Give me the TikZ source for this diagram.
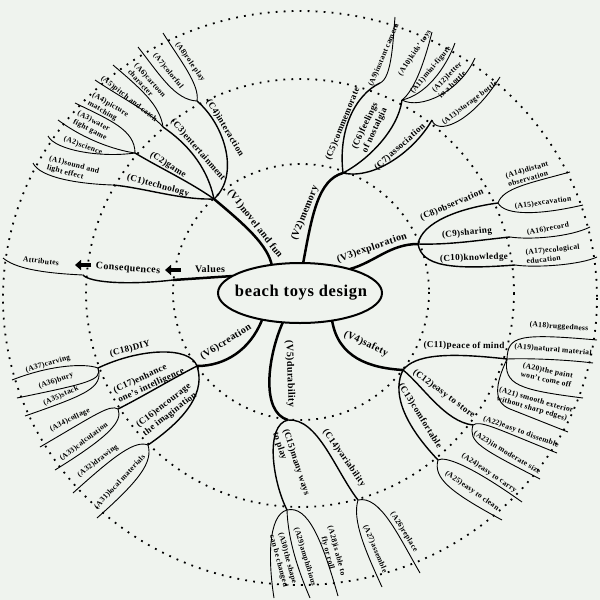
\documentclass[tikz,border=0pt]{standalone}
\usepackage{fontspec}
\setmainfont{Liberation Serif}[LetterSpace=4]
\usetikzlibrary{arrows.meta}
\definecolor{bgc}{RGB}{239,243,238}
\tikzset{
 lA/.style={font=\bfseries\fontsize{7.6}{9.2}\selectfont, inner sep=0pt, align=left},
 lC/.style={font=\bfseries\fontsize{9.1}{10.6}\selectfont, inner sep=0pt, align=left},
 lV/.style={font=\bfseries\fontsize{10}{11}\selectfont, inner sep=0pt},
 vline/.style={line width=2.5pt},
 cline/.style={line width=1.4pt},
 aline/.style={line width=0.9pt},
 ring/.style={line width=1.8pt, dash pattern=on 1.8pt off 6.2pt},
 bigarrow/.style={line width=4pt, -{Triangle[length=6pt,width=10pt]}},
}
\begin{document}
\begin{tikzpicture}[x=1pt,y=-1pt]
\fill[bgc] (0,0) rectangle (600,600);
\useasboundingbox (0,0) rectangle (600,600);
% rings
\draw[ring] (301,292) circle[radius=128];
\draw[ring] (300,293) circle[radius=214];
\draw[ring] (300,298) ellipse[x radius=297, y radius=287];
% junctions
\coordinate (J1) at (214,199);
\coordinate (J2) at (343,173);
\coordinate (J3) at (418,244);
\coordinate (J4) at (403,370);
\coordinate (J5) at (288,420);
\coordinate (J6) at (197,366);
\coordinate (E0) at (233,276);
\coordinate (E1) at (272,266);
\coordinate (E2) at (303,264);
\coordinate (E3) at (350,269);
\coordinate (E4) at (332,320);
\coordinate (E5) at (283,322);
\coordinate (E6) at (262,320);
\coordinate (L1) at (173,280);
\coordinate (L2) at (83,275);
\coordinate (L3) at (3,258);
% C ends
\coordinate (K1) at (113,185);
\coordinate (K2) at (135,153);
\coordinate (K3) at (163,127);
\coordinate (K4) at (197,101);
\coordinate (K5) at (380,83);
\coordinate (K6) at (402,100);
\coordinate (K7) at (432,120);
\coordinate (K8) at (498,203);
\coordinate (K9) at (510,237);
\coordinate (K10) at (515,265);
\coordinate (K11) at (507,359);
\coordinate (K12) at (473,425);
\coordinate (K13) at (438,460);
\coordinate (K14) at (358,500);
\coordinate (K15) at (287,510);
\coordinate (K16) at (148,445);
\coordinate (K17) at (118,409);
\coordinate (K18) at (98,368);
% A ends
\coordinate (a1) at (33,163);
\coordinate (a2) at (48,136);
\coordinate (a3) at (58,120);
\coordinate (a4) at (75,103);
\coordinate (a5) at (95,80);
\coordinate (a6) at (113,65);
\coordinate (a7) at (138,47);
\coordinate (a8) at (163,33);
\coordinate (a9) at (395,17);
\coordinate (a10) at (432,32);
\coordinate (a11) at (455,43);
\coordinate (a12) at (475,58);
\coordinate (a13) at (500,77);
\coordinate (a14) at (570,172);
\coordinate (a15) at (583,205);
\coordinate (a16) at (590,227);
\coordinate (a17) at (597,257);
\coordinate (a18) at (597,340);
\coordinate (a19) at (593,363);
\coordinate (a20) at (583,398);
\coordinate (a21) at (568,432);
\coordinate (a22) at (557,453);
\coordinate (a23) at (540,479);
\coordinate (a24) at (522,502);
\coordinate (a25) at (502,520);
\coordinate (a26) at (420,573);
\coordinate (a27) at (382,587);
\coordinate (a28) at (338,596);
\coordinate (a29) at (310,598);
\coordinate (a30) at (274,598);
\coordinate (a31) at (97,518);
\coordinate (a32) at (73,493);
\coordinate (a33) at (55,470);
\coordinate (a34) at (40,447);
\coordinate (a35) at (25,416);
\coordinate (a36) at (17,398);
\coordinate (a37) at (12,380);
% legend lines
\draw[vline] (E0) -- (L1);
\draw[cline] (L1) .. controls (130,285) and (90,283) .. (L2);
\draw[aline] (L2) .. controls (40,273) and (15,268) .. (L3);
% V lines
\draw[vline] (J1) .. controls (245,225) and (268,245) .. (E1);
\draw[vline] (E2) .. controls (312,215) and (318,180) .. (J2);
\draw[vline] (E3) .. controls (375,262) and (390,244) .. (J3);
\draw[vline] (E4) .. controls (338,358) and (370,368) .. (J4);
\draw[vline] (E5) .. controls (268,355) and (260,412) .. (J5);
\draw[vline] (E6) .. controls (250,350) and (225,366) .. (J6);
% V1 group
\draw[cline] (K1) .. controls (145,188) and (180,200) .. (J1);
\draw[cline] (K2) .. controls (160,168) and (190,182) .. (J1);
\draw[cline] (K3) .. controls (185,142) and (207,165) .. (J1);
\draw[cline] (K4) .. controls (225,125) and (240,175) .. (J1);
\draw[aline] (a1) .. controls (40,178) and (80,184) .. (K1);
\draw[aline] (a2) .. controls (55,150) and (100,158) .. (K2);
\draw[aline] (a3) .. controls (85,140) and (115,150) .. (K2);
\draw[aline] (a4) .. controls (110,120) and (135,130) .. (K2);
\draw[aline] (a5) .. controls (125,100) and (150,112) .. (K3);
\draw[aline] (a6) .. controls (140,88) and (160,105) .. (K3);
\draw[aline] (a7) .. controls (160,75) and (175,100) .. (K4);
\draw[aline] (a8) .. controls (180,60) and (200,85) .. (K4);
% V2 group
\draw[cline] (J2) .. controls (338,130) and (355,95) .. (K5);
\draw[cline] (J2) .. controls (368,160) and (398,130) .. (K6);
\draw[cline] (J2) .. controls (375,180) and (415,150) .. (K7);
\draw[aline] (K5) .. controls (392,78) and (393,40) .. (a9);
\draw[aline] (K6) .. controls (415,90) and (425,60) .. (a10);
\draw[aline] (K6) .. controls (425,95) and (445,70) .. (a11);
\draw[aline] (K6) .. controls (420,110) and (460,92) .. (a12);
\draw[aline] (K7) .. controls (436,135) and (470,125) .. (a13);
% V3 group
\draw[cline] (J3) .. controls (422,222) and (460,208) .. (K8);
\draw[cline] (J3) .. controls (450,245) and (480,240) .. (K9);
\draw[cline] (J3) .. controls (422,266) and (450,270) .. (K10);
\draw[aline] (K8) .. controls (503,188) and (530,183) .. (a14);
\draw[aline] (K8) .. controls (505,216) and (540,215) .. (a15);
\draw[aline] (K9) .. controls (530,240) and (570,237) .. (a16);
\draw[aline] (K10) .. controls (535,268) and (580,265) .. (a17);
% V4 group
\draw[cline] (J4) .. controls (415,355) and (445,352) .. (K11);
\draw[cline] (J4) .. controls (422,385) and (445,422) .. (K12);
\draw[cline] (J4) .. controls (393,390) and (400,420) .. (K13);
\draw[aline] (K11) .. controls (508,336) and (518,333) .. (a18);
\draw[aline] (K11) .. controls (530,358) and (570,360) .. (a19);
\draw[aline] (K11) .. controls (503,385) and (520,390) .. (a20);
\draw[aline] (K11) .. controls (495,385) and (493,402) .. (510,409) -- (a21);
\draw[aline] (K12) .. controls (480,420) and (495,428) .. (a22);
\draw[aline] (K12) .. controls (468,442) and (480,448) .. (a23);
\draw[aline] (K13) .. controls (445,456) and (470,465) .. (a24);
\draw[aline] (K13) .. controls (433,478) and (450,492) .. (a25);
% V5 group
\draw[cline] (J5) .. controls (318,418) and (335,470) .. (K14);
\draw[cline] (J5) .. controls (265,425) and (272,480) .. (K15);
\draw[aline] (K14) .. controls (380,495) and (398,535) .. (a26);
\draw[aline] (K14) .. controls (352,520) and (365,550) .. (a27);
\draw[aline] (K15) .. controls (308,505) and (322,540) .. (a28);
\draw[aline] (K15) .. controls (288,540) and (298,570) .. (a29);
\draw[aline] (K15) .. controls (268,515) and (268,560) .. (a30);
% V6 group
\draw[cline] (J6) .. controls (190,346) and (140,348) .. (K18);
\draw[cline] (J6) .. controls (170,380) and (140,398) .. (K17);
\draw[cline] (J6) .. controls (205,390) and (190,416) .. (K16);
\draw[aline] (K18) .. controls (85,363) and (50,365) .. (a37);
\draw[aline] (K18) .. controls (102,380) and (90,383) .. (a36);
\draw[aline] (K18) .. controls (104,388) and (85,395) .. (a35);
\draw[aline] (K17) .. controls (110,404) and (95,415) .. (a34);
\draw[aline] (K17) .. controls (123,421) and (110,436) .. (a33);
\draw[aline] (K16) .. controls (135,440) and (115,455) .. (a32);
\draw[aline] (K16) .. controls (153,462) and (140,480) .. (a31);
% centre
\draw[line width=2pt, fill=bgc] (300,293) ellipse[x radius=82, y radius=30];
\node[font=\bfseries\fontsize{16.5}{18}\selectfont] (title) at (301,293) {beach toys design};
% legend
\node[lV] (values) at (210,269) {Values};
\node[lV, rotate=-4] (conseq) at (128,269) {Consequences};
\node[lA, rotate=-6] (attr) at (41,261) {Attributes};
\coordinate (ar1s) at (181,270);
\coordinate (ar1e) at (165,270);
\coordinate (ar2s) at (91,265);
\coordinate (ar2e) at (75,265);
\draw[bigarrow] (ar1s) -- (ar1e);
\draw[bigarrow] (ar2s) -- (ar2e);
% V labels
\node[lV, rotate=-52] (v1) at (255,224) {(V1)novel and fun};
\node[lV, rotate=68] (v2) at (305,213) {(V2)memory};
\node[lV, rotate=19] (v3) at (372,248) {(V3)exploration};
\node[lV, rotate=-25] (v4) at (366,344) {(V4)safety};
\node[lV, rotate=-88] (v5) at (290,374) {(V5)durability};
\node[lV, rotate=32] (v6) at (226,342) {(V6)creation};
% C labels
\node[lC, rotate=-15] (c1) at (158,186) {(C1)technology};
\node[lC, rotate=-32] (c2) at (168,165) {(C2)game};
\node[lC, rotate=-49] (c3) at (198,150) {(C3)entertainment};
\node[lC, rotate=-59] (c4) at (225,128) {(C4)interaction};
\node[lC, rotate=68] (c5) at (343,124) {(C5)commemorate};
\node[lC, rotate=65, align=center] (c6) at (370,128) {(C6)feelings\\of nostalgia};
\node[lC, rotate=42] (c7) at (400,147) {(C7)association};
\node[lC, rotate=23] (c8) at (452,205) {(C8)observation};
\node[lC, rotate=6] (c9) at (467,233) {(C9)sharing};
\node[lC, rotate=2] (c10) at (474,258) {(C10)knowledge};
\node[lC, rotate=-1] (c11) at (464,346) {(C11)peace of mind};
\node[lC, rotate=-37] (c12) at (444,394) {(C12)easy to store};
\node[lC, rotate=-58] (c13) at (420,416) {(C13)comfortable};
\node[lC, rotate=-55] (c14) at (344,458) {(C14)variability};
\node[lC, rotate=-72] (c15) at (291,464) {(C15)many ways\\to play};
\node[lC, rotate=38] (c16) at (167,410) {(C16)encourage\\the imagination};
\node[lC, rotate=25] (c17) at (149,381) {(C17)enhance\\one's intelligence};
\node[lC, rotate=14] (c18) at (130,349) {(C18)DIY};
% A labels
\node[lA, rotate=-15] (tA1) at (73,170) {(A1)sound and\\light effect};
\node[lA, rotate=-20] (tA2) at (83,146) {(A2)science};
\node[lA, rotate=-28] (tA3) at (92,126) {(A3)water\\fight game};
\node[lA, rotate=-30] (tA4) at (108,109) {(A4)picture\\matching};
\node[lA, rotate=-38] (tA5) at (129,99) {(A5)pitch and catch};
\node[lA, rotate=-48] (tA6) at (147,83) {(A6)cartoon\\character};
\node[lA, rotate=-51] (tA7) at (168,71) {(A7)colorful};
\node[lA, rotate=-55] (tA8) at (190,62) {(A8)role play};
\node[lA, rotate=67] (tA9) at (384,55) {(A9)instant camera};
\node[lA, rotate=56] (tA10) at (415,53) {(A10)kids' toys};
\node[lA, rotate=50] (tA11) at (431,70) {(A11)mini-figure};
\node[lA, rotate=45] (tA12) at (450,80) {(A12)letter\\in a bottle};
\node[lA, rotate=37] (tA13) at (470,103) {(A13)storage bottle};
\node[lA, rotate=16] (tA14) at (528,174) {(A14)distant\\observation};
\node[lA, rotate=8] (tA15) at (543,203) {(A15)excavation};
\node[lA, rotate=10] (tA16) at (548,229) {(A16)record};
\node[lA, rotate=6] (tA17) at (553,254) {(A17)ecological\\education};
\node[lA, rotate=-4] (tA18) at (559,327) {(A18)ruggedness};
\node[lA, rotate=-5] (tA19) at (553,350) {(A19)natural material};
\node[lA, rotate=-12, align=center] (tA20) at (547,375) {(A20)the paint\\won't come off};
\node[lA, rotate=-16] (tA21) at (535,405) {(A21) smooth exterior\\without sharp edges)};
\node[lA, rotate=-20] (tA22) at (521,432) {(A22)easy to dissemble};
\node[lA, rotate=-31] (tA23) at (507,453) {(A23)in moderate size};
\node[lA, rotate=-34] (tA24) at (489,473) {(A24)easy to carry};
\node[lA, rotate=-35] (tA25) at (472,491) {(A25)easy to clean};
\node[lA, rotate=-58] (tA26) at (404,532) {(A26)replace};
\node[lA, rotate=-67] (tA27) at (375,549) {(A27)assemble};
\node[lA, rotate=-75, align=center] (tA28) at (332,552) {(A28)is able to\\fly or roll};
\node[lA, rotate=-73] (tA29) at (305,557) {(A29)amphibious};
\node[lA, rotate=-75] (tA30) at (283,560) {(A30)the shape\\can be changed};
\node[lA, rotate=47] (tA31) at (120,482) {(A31)local materials};
\node[lA, rotate=37] (tA32) at (98,461) {(A32)drawing};
\node[lA, rotate=37] (tA33) at (84,442) {(A33)calculation};
\node[lA, rotate=27] (tA34) at (70,420) {(A34)collage};
\node[lA, rotate=25] (tA35) at (61,396) {(A35)stack};
\node[lA, rotate=20] (tA36) at (56,381) {(A36)bury};
\node[lA, rotate=16] (tA37) at (48,364) {(A37)carving};
\end{tikzpicture}
\end{document}
